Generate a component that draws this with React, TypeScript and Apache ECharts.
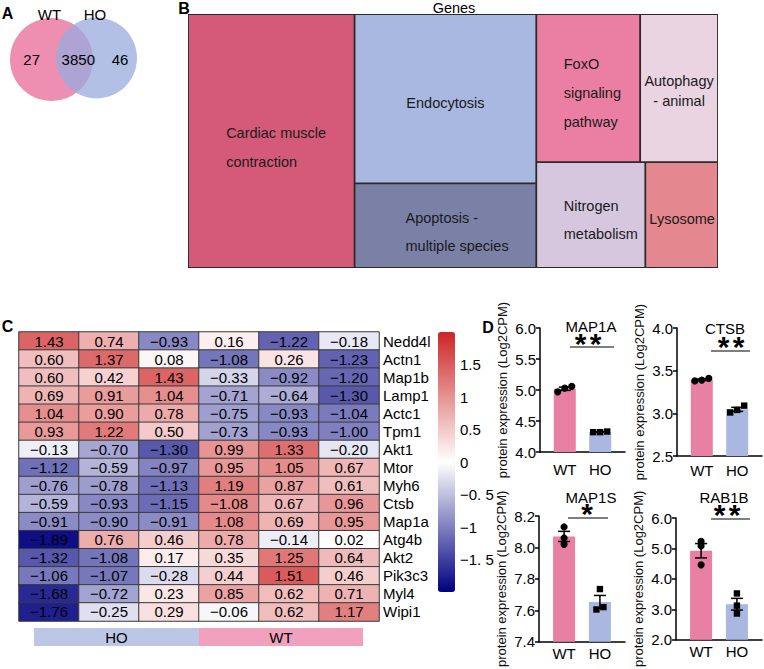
import React, { useEffect, useRef } from "react";
import * as echarts from "echarts";

const FONT = '"Liberation Sans", Arial, Helvetica, sans-serif';

// ---------- A: Venn ----------
const vennGroups = ["WT", "HO"];
const vennCounts = [27, 3850, 46]; // WT only, shared, HO only

// ---------- B: treemap ----------
const pathwayNames = [
  "Cardiac muscle contraction",
  "Endocytosis",
  "Apoptosis - multiple species",
  "FoxO signaling pathway",
  "Autophagy - animal",
  "Nitrogen metabolism",
  "Lysosome",
];
const pathwayGeneCounts = [11, 8, 4, 4, 3, 3, 2];
const treemapTitle = "Genes";

// ---------- C: heatmap ----------
const heatSamples = ["HO1", "HO2", "HO3", "WT1", "WT2", "WT3"];
const heatGenes = [
  "Nedd4l", "Actn1", "Map1b", "Lamp1", "Actc1", "Tpm1", "Akt1", "Mtor",
  "Myh6", "Ctsb", "Map1a", "Atg4b", "Akt2", "Pik3c3", "Myl4", "Wipi1",
];
const heatValues = [
  [1.43, 0.74, -0.93, 0.16, -1.22, -0.18],
  [0.6, 1.37, 0.08, -1.08, 0.26, -1.23],
  [0.6, 0.42, 1.43, -0.33, -0.92, -1.2],
  [0.69, 0.91, 1.04, -0.71, -0.64, -1.3],
  [1.04, 0.9, 0.78, -0.75, -0.93, -1.04],
  [0.93, 1.22, 0.5, -0.73, -0.93, -1.0],
  [-0.13, -0.7, -1.3, 0.99, 1.33, -0.2],
  [-1.12, -0.59, -0.97, 0.95, 1.05, 0.67],
  [-0.76, -0.78, -1.13, 1.19, 0.87, 0.61],
  [-0.59, -0.93, -1.15, 1.08, 0.67, 0.96],
  [-0.91, -0.9, -0.91, 1.08, 0.69, 0.95],
  [-1.89, 0.76, 0.46, 0.78, -0.14, 0.02],
  [-1.32, -1.08, 0.17, 0.35, 1.25, 0.64],
  [-1.06, -1.07, -0.28, 0.44, 1.51, 0.46],
  [-1.68, -0.72, 0.23, 0.85, 0.62, 0.71],
  [-1.76, -0.25, 0.29, -0.06, 0.62, 1.17],
];
// the figure prints this one cell with a minus sign although it is coloured as positive
const heatPrintedOverrides: Record<string, string> = { "Ctsb|WT1": "\u22121.08" };
const heatGroupLabels = ["HO", "WT"];
const colorbarTicks = [1.5, 1, 0.5, 0, -0.5, -1, -1.5];
const colorbarTickLabels = ["1.5", "1", "0.5", "0", "\u22120. 5", "\u22121", "\u22121. 5"];
const colorMin = -2;
const colorMax = 2;

// ---------- D: bar panels ----------
const barGroups = ["WT", "HO"];
const yAxisTitle = "protein expression (Log2CPM)";
const map1aWT = [5.06, 4.97, 5.03];
const map1aHO = [4.32, 4.33, 4.32];
const ctsbWT = [3.38, 3.41, 3.39];
const ctsbHO = [3.01, 3.09, 3.04];
const map1sWT = [8.13, 8.06, 8.02];
const map1sHO = [7.735, 7.605, 7.62];
const rab1bWT = [5.23, 5.08, 4.46];
const rab1bHO = [3.52, 3.12, 2.86];
const panelNames = ["MAP1A", "CTSB", "MAP1S", "RAB1B"];
const panelSig = ["**", "**", "*", "**"];
const panelAxisMin = [4, 2.5, 7.4, 2];
const panelAxisMax = [6, 4, 8.2, 6];
const panelAxisStep = [0.5, 0.5, 0.2, 1];

// ---------- styles / layout ----------
const WT_COLOR = "#ea7fa4";
const HO_COLOR = "#a9b7e1";
const COLORBAR = { left: 438, top: 332, width: 17, height: 260 };

const treemapStyle: Record<string, any> = {
  "Cardiac muscle contraction": { color: "#d55a79", text: "Cardiac muscle\ncontraction", pos: ["22.6%", "52.6%"], align: "left", lh: 29 },
  Endocytosis: { color: "#a8b8e0", text: "Endocytosis", pos: ["50%", "52.7%"], align: "center", lh: 20 },
  "Apoptosis - multiple species": { color: "#7b80a6", text: "Apoptosis -\nmultiple species", pos: ["27.8%", "57.6%"], align: "left", lh: 28 },
  "FoxO signaling pathway": { color: "#ea7fa3", text: "FoxO\nsignaling\npathway", pos: ["26%", "53.7%"], align: "left", lh: 29 },
  "Autophagy - animal": { color: "#ead4e1", text: "Autophagy\n- animal", pos: ["50%", "51.7%"], align: "center", lh: 20 },
  "Nitrogen metabolism": { color: "#d6c7df", text: "Nitrogen\nmetabolism", pos: ["24.8%", "55%"], align: "left", lh: 28 },
  Lysosome: { color: "#e4878f", text: "Lysosome", pos: ["50.7%", "54%"], align: "center", lh: 20 },
};

const panelLayout = [
  { grid: { left: 540, top: 328, width: 85, height: 124 }, title: [591, 326], star: [588, 342], line: [570, 614, 347], labelMargin: 10 },
  { grid: { left: 677, top: 328, width: 85, height: 128 }, title: [725, 328], star: [731, 345], line: [711, 750, 351], labelMargin: 7 },
  { grid: { left: 539, top: 516, width: 86, height: 132 }, title: [591, 497], star: [587, 512], line: [568, 608, 518], labelMargin: 4 },
  { grid: { left: 676, top: 518, width: 86, height: 130 }, title: [724, 497], star: [727, 513], line: [711, 750, 519], labelMargin: 4 },
];

const mean = (a: number[]) => a.reduce((s, v) => s + v, 0) / a.length;
const sem = (a: number[]) => {
  const m = mean(a);
  return Math.sqrt(a.reduce((s, v) => s + (v - m) ** 2, 0) / (a.length - 1)) / Math.sqrt(a.length);
};
// spread overlapping points sideways (like a column scatter)
function spread(values: number[], range: number) {
  const thr = range * 0.035;
  const idx = values.map((_, i) => i).sort((a, b) => values[a] - values[b]);
  const offs = values.map(() => 0);
  let cluster = [idx[0]];
  const flush = () => {
    const n = cluster.length;
    cluster.forEach((k, j) => (offs[k] = n > 1 ? (j - (n - 1) / 2) * 7 : 0));
  };
  for (let i = 1; i < idx.length; i++) {
    if (values[idx[i]] - values[idx[i - 1]] < thr) cluster.push(idx[i]);
    else {
      flush();
      cluster = [idx[i]];
    }
  }
  flush();
  return offs;
}

function buildOption() {
  const grid: any[] = [];
  const xAxis: any[] = [];
  const yAxis: any[] = [];
  const series: any[] = [];
  const graphic: any[] = [];
  const title: any[] = [];

  // ----- heatmap (grid 0) -----
  grid.push({ left: 19, top: 332, width: 360, height: 289 });
  xAxis.push({ gridIndex: 0, type: "category", data: heatSamples, show: false });
  yAxis.push({
    gridIndex: 0, type: "category", data: heatGenes, inverse: true, position: "right",
    axisLine: { show: false }, axisTick: { show: false },
    axisLabel: { interval: 0, margin: 4, fontSize: 15, color: "#000", fontFamily: FONT },
  });
  const heatData: any[] = [];
  heatGenes.forEach((g, r) =>
    heatSamples.forEach((s, c) => heatData.push([c, r, heatValues[r][c]]))
  );
  const fmt = (v: number) => (v < 0 ? "\u2212" + Math.abs(v).toFixed(2) : v.toFixed(2));
  series.push({
    type: "heatmap", xAxisIndex: 0, yAxisIndex: 0, data: heatData,
    itemStyle: { borderColor: "#3a3a3a", borderWidth: 1 },
    emphasis: { disabled: true },
    label: {
      show: true, fontSize: 15, color: "#000", fontFamily: FONT,
      formatter: (p: any) => {
        const key = heatGenes[p.value[1]] + "|" + heatSamples[p.value[0]];
        return heatPrintedOverrides[key] ?? fmt(p.value[2]);
      },
    },
  });

  // ----- colorbar tick labels as title components (same linear scale as the visualMap bar) -----
  colorbarTicks.forEach((t, k) => {
    const y = COLORBAR.top + ((colorMax - t) / (colorMax - colorMin)) * COLORBAR.height;
    title.push({
      text: colorbarTickLabels[k],
      left: COLORBAR.left + COLORBAR.width + 5,
      top: y - 9,
      padding: 0,
      itemGap: 0,
      z: 50,
      textStyle: { fontSize: 15, fontWeight: "normal", fontFamily: FONT, color: "#000", lineHeight: 18 },
    });
  });

  // ----- bar panels (grids 1..4) -----
  const panelData = [
    [map1aWT, map1aHO],
    [ctsbWT, ctsbHO],
    [map1sWT, map1sHO],
    [rab1bWT, rab1bHO],
  ];
  panelNames.forEach((name, i) => {
    const gi = i + 1;
    const L = panelLayout[i];
    const [wt, ho] = panelData[i];
    const range = panelAxisMax[i] - panelAxisMin[i];
    grid.push(L.grid);
    xAxis.push({
      gridIndex: gi, type: "value", min: -0.7, max: 1.7,
      axisLine: { show: true, onZero: false, lineStyle: { color: "#000", width: 1.5 } },
      axisTick: { show: false }, splitLine: { show: false },
      axisLabel: {
        customValues: [0, 1], margin: L.labelMargin, fontSize: 15, color: "#000", fontFamily: FONT,
        formatter: (v: number) => (v === 0 || v === 1 ? barGroups[v] : ""),
      },
    });
    yAxis.push({
      gridIndex: gi, type: "value", min: panelAxisMin[i], max: panelAxisMax[i], interval: panelAxisStep[i],
      name: yAxisTitle, nameLocation: "middle", nameGap: 31, nameMoveOverlap: false,
      nameTextStyle: { fontSize: 13, color: "#111", fontFamily: FONT },
      axisLine: { show: true, onZero: false, lineStyle: { color: "#000", width: 1.5 } },
      axisTick: { show: true, length: 4, lineStyle: { color: "#000", width: 1.5 } },
      splitLine: { show: false },
      axisLabel: { margin: 4, fontSize: 15, color: "#000", fontFamily: FONT, formatter: (v: number) => v.toFixed(1) },
    });
    series.push({
      type: "bar", xAxisIndex: gi, yAxisIndex: gi, barWidth: 22, clip: true, z: 2,
      data: [
        { value: [0, mean(wt)], itemStyle: { color: WT_COLOR } },
        { value: [1, mean(ho)], itemStyle: { color: HO_COLOR } },
      ],
    });
    series.push({
      type: "custom", xAxisIndex: gi, yAxisIndex: gi, z: 3, encode: { x: 0, y: 1 },
      data: [
        [0, mean(wt), sem(wt)],
        [1, mean(ho), sem(ho)],
      ],
      renderItem: (params: any, api: any) => {
        const x = api.value(0), m = api.value(1), s = api.value(2);
        const top = api.coord([x, m + s]);
        const bot = api.coord([x, m - s]);
        const cw = 6;
        const st = { stroke: "#000", lineWidth: 1.5 };
        return {
          type: "group",
          children: [
            { type: "line", shape: { x1: top[0], y1: top[1], x2: bot[0], y2: bot[1] }, style: st },
            { type: "line", shape: { x1: top[0] - cw, y1: top[1], x2: top[0] + cw, y2: top[1] }, style: st },
            { type: "line", shape: { x1: bot[0] - cw, y1: bot[1], x2: bot[0] + cw, y2: bot[1] }, style: st },
          ],
        };
      },
    });
    const pts: any[] = [];
    [wt, ho].forEach((arr, g) => {
      const offs = spread(arr, range);
      arr.forEach((v, k) => pts.push([g, v, offs[k]]));
    });
    series.push({
      type: "custom", xAxisIndex: gi, yAxisIndex: gi, z: 4, encode: { x: 0, y: 1 }, data: pts,
      renderItem: (params: any, api: any) => {
        const g = api.value(0), v = api.value(1), off = api.value(2);
        const p = api.coord([g, v]);
        const cx = p[0] + off;
        if (g === 0) return { type: "circle", shape: { cx, cy: p[1], r: 3.6 }, style: { fill: "#000" } };
        return { type: "rect", shape: { x: cx - 3.2, y: p[1] - 3.2, width: 6.4, height: 6.4 }, style: { fill: "#000" } };
      },
    });
    // title, significance
    graphic.push({
      type: "text", x: L.title[0], y: L.title[1],
      style: { text: name, fontSize: 15, fontFamily: FONT, fill: "#000", align: "center", verticalAlign: "middle" },
    });
    const stars = panelSig[i].split("");
    stars.forEach((s, k) => {
      graphic.push({
        type: "text", x: L.star[0] + (k - (stars.length - 1) / 2) * 15, y: L.star[1] - 14,
        style: { text: s, fontSize: 30, fontWeight: "bold", fontFamily: FONT, fill: "#000", align: "center", verticalAlign: "top" },
      });
    });
    graphic.push({
      type: "line", shape: { x1: L.line[0], y1: L.line[2], x2: L.line[1], y2: L.line[2] },
      style: { stroke: "#000", lineWidth: 1.2 },
    });
  });

  // ----- treemap -----
  series.push({
    type: "treemap", left: 188, top: 14, width: 530, height: 254,
    roam: false, nodeClick: false, sort: false, squareRatio: 1.15,
    breadcrumb: { show: false }, silent: true, visibleMin: 0,
    levels: [
      { itemStyle: { borderWidth: 0, gapWidth: 0, borderColor: "#333" } },
      { itemStyle: { borderWidth: 0.9, gapWidth: 0, borderColor: "#2a2a2a" } },
    ],
    label: { show: true, padding: 0, fontSize: 14.5, color: "#1a1a1a", fontFamily: FONT, overflow: "none" },
    data: pathwayNames.map((n, i) => {
      const st = treemapStyle[n];
      return {
        name: n,
        value: pathwayGeneCounts[i],
        itemStyle: { color: st.color },
        label: { formatter: st.text, position: st.pos, align: st.align, verticalAlign: "middle", lineHeight: st.lh },
      };
    }),
  });

  // ----- graphics: Venn, letters, group bar -----
  graphic.push(
    { type: "circle", shape: { cx: 51.5, cy: 59.5, r: 41.5 }, style: { fill: "#ee8fb2" } },
    { type: "circle", shape: { cx: 96.5, cy: 58, r: 40.5 }, style: { fill: "#98abde", opacity: 0.75 } }
  );
  const vennTextPos = [[31.7, 59], [78.3, 59], [120, 59]];
  vennCounts.forEach((c, i) =>
    graphic.push({
      type: "text", x: vennTextPos[i][0], y: vennTextPos[i][1],
      style: { text: String(c), fontSize: 15, fontFamily: FONT, fill: "#000", align: "center", verticalAlign: "middle" },
    })
  );
  const vennLabelPos = [[49.5, 14], [95, 14]];
  vennGroups.forEach((g, i) =>
    graphic.push({
      type: "text", x: vennLabelPos[i][0], y: vennLabelPos[i][1],
      style: { text: g, fontSize: 15, fontFamily: FONT, fill: "#000", align: "center", verticalAlign: "middle" },
    })
  );
  const letters: [string, number, number][] = [["A", 7.5, 13.5], ["B", 184, 8], ["C", 7.5, 326], ["D", 488, 327]];
  letters.forEach(([t, x, y]) =>
    graphic.push({
      type: "text", x, y,
      style: { text: t, fontSize: 16, fontWeight: "bold", fontFamily: FONT, fill: "#000", align: "center", verticalAlign: "middle" },
    })
  );
  graphic.push({
    type: "text", x: 454, y: 8,
    style: { text: treemapTitle, fontSize: 14.5, fontFamily: FONT, fill: "#000", align: "center", verticalAlign: "middle" },
  });
  const groupBars = [
    { x: 34, w: 165, color: "#bcc7e6" },
    { x: 199, w: 164, color: "#f1a0bd" },
  ];
  heatGroupLabels.forEach((g, i) => {
    const b = groupBars[i];
    graphic.push({ type: "rect", shape: { x: b.x, y: 628, width: b.w, height: 18 }, style: { fill: b.color } });
    graphic.push({
      type: "text", x: b.x + b.w / 2, y: 637,
      style: { text: g, fontSize: 15, fontFamily: FONT, fill: "#000", align: "center", verticalAlign: "middle" },
    });
  });

  return {
    animation: false,
    backgroundColor: "#fff",
    textStyle: { fontFamily: FONT },
    title, grid, xAxis, yAxis, series, graphic,
    visualMap: {
      type: "continuous", min: colorMin, max: colorMax, seriesIndex: 0, dimension: 2,
      inRange: { color: ["#000080", "#ffffff", "#CD2626"] },
      left: COLORBAR.left, top: COLORBAR.top, itemWidth: COLORBAR.width, itemHeight: COLORBAR.height, padding: 0,
      calculable: false, hoverLink: false, orient: "vertical", showLabel: false,
    },
  };
}

export default function App() {
  const ref = useRef<HTMLDivElement>(null);
  useEffect(() => {
    if (!ref.current) return;
    const chart = echarts.init(ref.current, null, { renderer: "svg" });
    chart.setOption(buildOption() as any);
    return () => chart.dispose();
  }, []);
  return (
    <div
      ref={ref}
      style={{ position: "absolute", left: 0, top: 0, width: 764, height: 669, background: "#fff" }}
    />
  );
}
